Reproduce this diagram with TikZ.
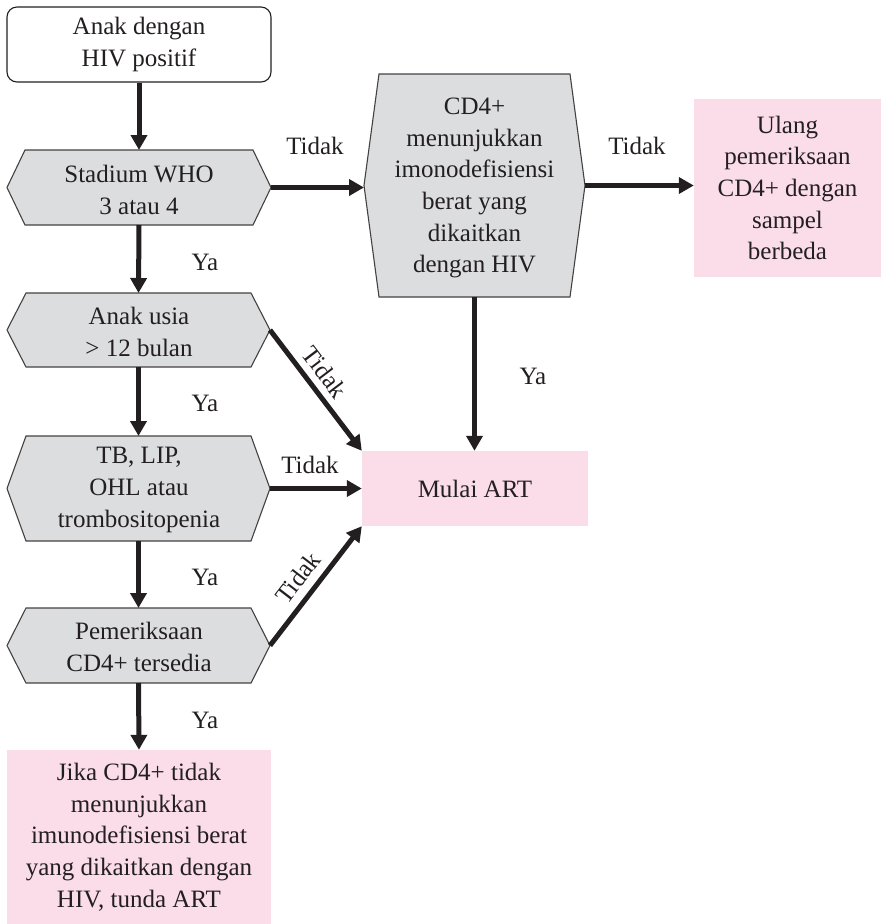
\documentclass[tikz,border=0pt]{standalone}
\usepackage{fontspec}
\setmainfont{Liberation Serif}
\usetikzlibrary{arrows.meta}
\definecolor{ink}{RGB}{35,31,32}
\definecolor{hexgray}{RGB}{220,221,223}
\definecolor{rosefill}{RGB}{250,221,233}

% hexagonal decision box: name, left, right, top, bottom, indent
\newcommand{\hexbox}[6]{%
  \path[hexfill] (#2,{(#4+#5)/2}) coordinate (#1-W)
    -- (#2+#6,#4) -- (#3-#6,#4)
    -- (#3,{(#4+#5)/2}) coordinate (#1-E)
    -- (#3-#6,#5) -- (#2+#6,#5) -- cycle;
  \coordinate (#1-N) at ({(#2+#3)/2},#4);
  \coordinate (#1-S) at ({(#2+#3)/2},#5);
}

\begin{document}
\begin{tikzpicture}[x=1pt,y=-1pt,
  every node/.style={font=\fontsize{25}{31.7}\selectfont, text=ink, inner sep=0pt, align=center},
  hexfill/.style={fill=hexgray, draw=ink!85, line width=1.1pt, line join=miter},
  startbox/.style={draw=ink, line width=1.1pt, fill=white, rounded corners=10pt},
  rosebox/.style={fill=rosefill, draw=none},
  arr/.style={draw=ink, line width=5pt, -{Triangle[length=15pt,width=16pt]}},
  lbl/.style={text=ink}]
\useasboundingbox (0,0) rectangle (881,924);

% start
\node[startbox, minimum width=264pt, minimum height=75pt] (start) at (139,44.5) {Anak dengan\\HIV positif};

% decision boxes in the left column
\hexbox{stad}{7}{271}{150}{225}{18}
\node (stadT) at (139,190) {Stadium WHO\\3 atau 4};

\hexbox{usia}{7}{270}{293}{367}{19}
\node (usiaT) at (139,332) {Anak usia\\> 12 bulan};

\hexbox{tb}{7}{270}{436}{541}{19}
\node (tbT) at (139,490) {TB, LIP,\\OHL atau\\trombositopenia};

\hexbox{pem}{7}{270}{608}{683}{19}
\node (pemT) at (139,647) {Pemeriksaan\\CD4+ tersedia};

% CD4 decision box
\hexbox{cd}{364}{585}{74}{297}{15}
\node (cdT) at (474.5,188) {CD4+\\menunjukkan\\imonodefisiensi\\berat yang\\dikaitkan\\dengan HIV};

% outcome boxes
\node[rosebox, minimum width=187pt, minimum height=178pt] (ulang) at (787.5,188) {Ulang\\pemeriksaan\\CD4+ dengan\\sampel\\berbeda};
\node[rosebox, minimum width=226pt, minimum height=75pt] (mulai) at (475,488.5) {Mulai ART};
\node[rosebox, minimum width=264pt, minimum height=174pt] (tunda) at (139,837) {Jika CD4+ tidak\\menunjukkan\\imunodefisiensi berat\\yang dikaitkan dengan\\HIV, tunda ART};

% vertical flow
\draw[arr] (start.south) -- (stad-N);
\draw[arr] (stad-S) -- (usia-N);
\draw[arr] (usia-S) -- (tb-N);
\draw[arr] (tb-S) -- (pem-N);
\draw[arr] (pem-S) -- (tunda.north);
\draw[arr] (cd-S) -- (cd-S |- mulai.north);

\node[lbl] (ya1) at (205,262) {Ya};
\node[lbl] (ya2) at (205,403) {Ya};
\node[lbl] (ya3) at (205,577) {Ya};
\node[lbl] (ya4) at (205,720) {Ya};
\node[lbl] (ya5) at (533,376) {Ya};

% "Tidak" branches
\draw[arr] (stad-E) -- (stad-E -| cd-W);
\node[lbl] (td1) at (315,146) {Tidak};
\draw[arr] (cd-E) -- (cd-E -| ulang.west);
\node[lbl] (td2) at (637,146) {Tidak};

\draw[arr] (usia-E) -- (mulai.north west)
  node[lbl, pos=0.44, sloped, above=7pt] (td3) {Tidak};
\draw[arr] (tb-E) -- (mulai.west);
\node[lbl] (td4) at (310,465) {Tidak};
\draw[arr] (pem-E) -- (mulai.south west)
  node[lbl, pos=0.47, sloped, above=8pt] (td5) {Tidak};
\end{tikzpicture}
\end{document}
